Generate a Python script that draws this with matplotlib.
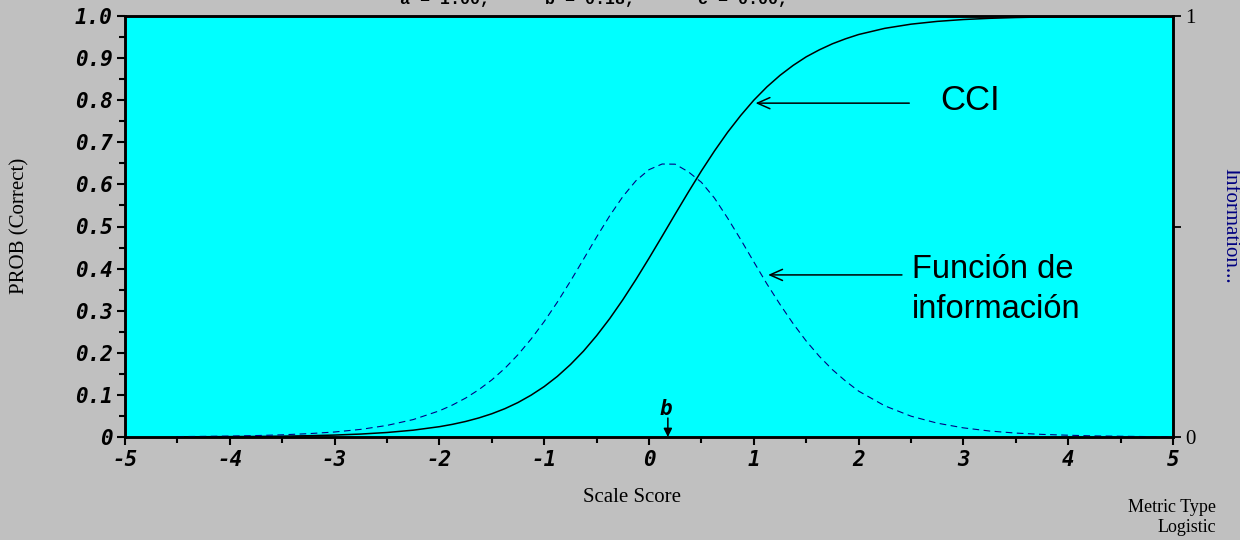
import numpy as np
import matplotlib.pyplot as plt
from matplotlib.font_manager import FontProperties

plt.rcParams['axes.unicode_minus'] = False

# item parameters (partly cut off at the top of the picture)
param_names = ["a", "b", "c"]
param_values = ["1.00", "0.18", "0.00"]
b_param = 0.18

# values
theta = [-4.5, -4.25, -4.0, -3.75, -3.5, -3.25, -3.0, -2.75, -2.5, -2.25,
         -2.0, -1.875, -1.75, -1.625, -1.5, -1.375, -1.25, -1.125, -1.0, -0.875,
         -0.75, -0.625, -0.5, -0.375, -0.25, -0.125, 0.0, 0.125, 0.25, 0.375,
         0.5, 0.625, 0.75, 0.875, 1.0, 1.125, 1.25, 1.375, 1.5, 1.625,
         1.75, 1.875, 2.0, 2.25, 2.5, 2.75, 3.0, 3.25, 3.5, 3.75,
         4.0, 4.25, 4.5, 4.75, 5.0]
prob = [0.0004, 0.0006, 0.0009, 0.0013, 0.0020, 0.0030, 0.0046, 0.0070, 0.0107, 0.0162,
        0.0245, 0.0301, 0.0369, 0.0452, 0.0552, 0.0673, 0.0819, 0.0994, 0.1198, 0.1439,
        0.1720, 0.2040, 0.2406, 0.2812, 0.3259, 0.3740, 0.4246, 0.4767, 0.5295, 0.5815,
        0.6320, 0.6795, 0.7238, 0.7637, 0.8000, 0.8316, 0.8590, 0.8826, 0.9030, 0.9196,
        0.9340, 0.9458, 0.9560, 0.9707, 0.9806, 0.9872, 0.9916, 0.9945, 0.9964, 0.9976,
        0.9984, 0.9990, 0.9993, 0.9996, 0.9997]
info = [0.0010, 0.0015, 0.0022, 0.0034, 0.0052, 0.0079, 0.0119, 0.0181, 0.0275, 0.0414,
        0.0622, 0.0760, 0.0924, 0.1122, 0.1356, 0.1632, 0.1955, 0.2327, 0.2742, 0.3202,
        0.3700, 0.4222, 0.4750, 0.5254, 0.5710, 0.6086, 0.6350, 0.6484, 0.6480, 0.6300,
        0.6050, 0.5674, 0.5200, 0.4691, 0.4160, 0.3637, 0.3150, 0.2694, 0.2280, 0.1917,
        0.1600, 0.1330, 0.1090, 0.0740, 0.0495, 0.0329, 0.0217, 0.0142, 0.0093, 0.0062,
        0.0042, 0.0026, 0.0018, 0.0010, 0.0008]

xticks = [-5, -4, -3, -2, -1, 0, 1, 2, 3, 4, 5]
yticks = [0, 0.1, 0.2, 0.3, 0.4, 0.5, 0.6, 0.7, 0.8, 0.9, 1.0]
ytick_labels = ["0", "0.1", "0.2", "0.3", "0.4", "0.5", "0.6", "0.7", "0.8", "0.9", "1.0"]

mono = FontProperties(family="DejaVu Sans Mono", weight="bold", style="oblique", size=15)
serif = "Liberation Serif"

fig = plt.figure(figsize=(12.4, 5.4), dpi=100, facecolor="#c0c0c0")
ax = fig.add_axes([125/1240, 1 - 437/540, 1048/1240, 421/540])
ax.set_facecolor("#00ffff")

ax.plot(theta, prob, color="black", lw=1.1, zorder=3)
ax.set_xlim(-5, 5)
ax.set_ylim(0, 1)

ax.set_xticks(xticks)
ax.set_xticklabels([str(t) for t in xticks])
ax.set_xticks(np.arange(-4.5, 5, 1.0), minor=True)
ax.set_yticks(yticks)
ax.set_yticklabels(ytick_labels)
ax.set_yticks(np.arange(0.05, 1.0, 0.1), minor=True)
for lab in ax.get_xticklabels() + ax.get_yticklabels():
    lab.set_fontproperties(mono)
ax.tick_params(which="major", direction="out", length=6, width=1.5, pad=3)
ax.tick_params(which="minor", direction="out", length=4, width=1.5)
for s in ax.spines.values():
    s.set_linewidth(1.8)

# information function on its own axis
ax2 = ax.twinx()
ax2.plot(theta, info, color="#000080", lw=0.8, ls=(0, (6, 4)))
ax2.set_ylim(0, 1)
ax2.set_yticks([0, 0.5, 1])
ax2.set_yticklabels(["0", "", "1"], family=serif, size=15)
ax2.tick_params(direction="out", length=6, width=1.3, pad=3)
for s in ax2.spines.values():
    s.set_linewidth(1.8)

# annotations
arrow = dict(arrowstyle="->,head_length=0.9,head_width=0.4", color="black", lw=1.1)
ax.annotate("", xy=(0.99, 0.793), xytext=(2.51, 0.793), arrowprops=arrow)
ax.text(2.78, 0.80, "CCI", family="Liberation Sans", size=25, va="center", ha="left")
ax.annotate("", xy=(1.11, 0.385), xytext=(2.44, 0.385), arrowprops=arrow)
ax.text(2.51, 0.378, "Función de", family="Liberation Sans", size=23.5, va="baseline")
ax.text(2.51, 0.283, "información", family="Liberation Sans", size=23.5, va="baseline")

ax.annotate("", xy=(b_param, 0.0), xytext=(b_param, 0.045),
            arrowprops=dict(arrowstyle="-|>,head_length=0.5,head_width=0.25",
                            color="black", lw=1.1, shrinkA=0, shrinkB=0))
ax.text(b_param - 0.02, 0.043, "b", fontproperties=mono, ha="center", va="bottom")

# labels
fig.text(20/1240, 1 - 226/540, "PROB (Correct)", family=serif, size=15,
         rotation=90, ha="center", va="center")
fig.text(1230/1240, 1 - 226/540, "Information...", family=serif, size=15,
         rotation=270, ha="center", va="center", color="#000080")
fig.text(632/1240, 1 - 497/540, "Scale Score", family=serif, size=15,
         ha="center", va="center")
fig.text(1216/1240, 1 - 508/540, "Metric Type", family=serif, size=13,
         ha="right", va="center")
fig.text(1216/1240, 1 - 528/540, "Logistic", family=serif, size=13,
         ha="right", va="center")

# parameter line, mostly above the top edge as in the reference
for name, val, px in zip(param_names, param_values, [400, 545, 698]):
    fig.text(px/1240, 1 - 4/540, name + " = " + val + ",",
             family="Liberation Mono", weight="bold", size=12, va="baseline")

fig.savefig("out.png", dpi=100, facecolor=fig.get_facecolor())
